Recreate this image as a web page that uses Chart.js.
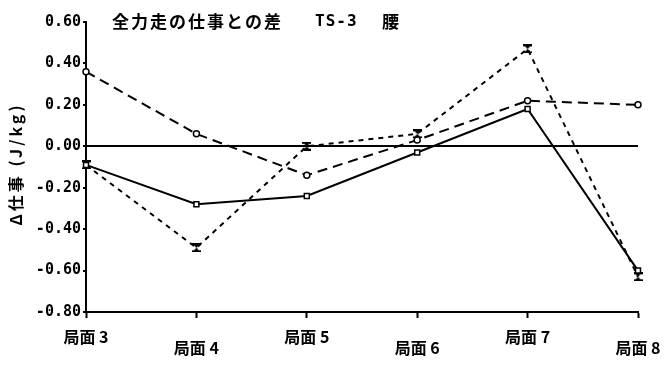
<!DOCTYPE html>
<html>
<head>
<meta charset="utf-8">
<script src="https://cdn.jsdelivr.net/npm/chart.js@4/dist/chart.umd.min.js"></script>
<style>
  body { margin: 0; background: #fff; }
  #wrap { width: 667px; height: 365px; }
</style>
</head>
<body>
<div id="wrap"><canvas id="myChart" width="667" height="365"></canvas></div>
<script>
'use strict';
let phases = ['局面 3', '局面 4', '局面 5', '局面 6', '局面 7', '局面 8'];
let solidSquare = [-0.09, -0.28, -0.24, -0.03, 0.18, -0.60];
let longDashCircle = [0.36, 0.06, -0.14, 0.03, 0.22, 0.20];
let shortDashHourglass = [-0.09, -0.49, 0.00, 0.06, 0.47, -0.63];
let yTicks = [0.60, 0.40, 0.20, 0.00, -0.20, -0.40, -0.60, -0.80];
let titleParts = ['全力走の仕事との差', 'TS-3', '腰'];
let yTitle = 'Δ仕事 (J/kg)';

let jpFont = '"Noto Sans CJK JP", sans-serif';
let numFont = '"DejaVu Sans Mono", "Noto Sans CJK JP", monospace';

// hourglass marker for the short dashed series
function makeHourglass() {
    let c = document.createElement('canvas');
    c.width = 9;
    c.height = 9;
    let g = c.getContext('2d');
    g.fillStyle = '#000';
    g.beginPath();
    g.moveTo(1, 1); g.lineTo(8, 1); g.lineTo(4.5, 4.5); g.lineTo(8, 8); g.lineTo(1, 8); g.lineTo(4.5, 4.5);
    g.closePath();
    g.fill();
    g.fillRect(0, 0, 9, 2);
    g.fillRect(0, 7, 9, 2);
    return c;
}

// stagger the category labels: 局面 4, 6, 8 on a second row
let xLabels = phases.map(function (p, i) { return i % 2 ? ['', p] : p; });

let textPlugin = {
    id: 'extraText',
    afterDraw(chart) {
        let c = chart.ctx;
        c.save();
        c.fillStyle = '#000';
        c.textBaseline = 'middle';
        c.letterSpacing = '2px';
        c.font = 'bold 17px ' + jpFont;
        c.fillText(titleParts[0], 112, 22);
        c.letterSpacing = '1px';
        c.font = 'bold 16px ' + numFont;
        c.fillText(titleParts[1], 315, 22);
        c.font = 'bold 17px ' + jpFont;
        c.fillText(titleParts[2], 382, 22);

        // rotated y axis title
        let mid = (chart.chartArea.top + chart.chartArea.bottom) / 2;
        c.translate(16, mid - 3);
        c.rotate(-Math.PI / 2);
        c.textAlign = 'center';
        c.letterSpacing = '3px';
        c.font = 'bold 16px ' + jpFont;
        c.fillText(yTitle, 0, 0);
        c.restore();
    }
};

let ctx = document.getElementById('myChart').getContext('2d');
ctx.letterSpacing = '2px';
let chart = new Chart(ctx, {
    type: 'line',
    data: {
        labels: xLabels,
        datasets: [
            {
                data: solidSquare,
                borderColor: '#000',
                borderWidth: 2,
                pointStyle: 'rect',
                pointRadius: 3.5,
                pointBackgroundColor: '#fff',
                pointBorderColor: '#000',
                pointBorderWidth: 1.5
            },
            {
                data: longDashCircle,
                borderColor: '#000',
                borderWidth: 2,
                borderDash: [10, 6],
                pointStyle: 'circle',
                pointRadius: 3,
                pointBackgroundColor: '#fff',
                pointBorderColor: '#000',
                pointBorderWidth: 1.5
            },
            {
                data: shortDashHourglass,
                borderColor: '#000',
                borderWidth: 2,
                borderDash: [5, 5],
                pointStyle: makeHourglass(),
                pointRadius: 4.5
            }
        ]
    },
    options: {
        responsive: false,
        animation: false,
        layout: { padding: { top: 22, right: 29, left: 0, bottom: 0 } },
        plugins: {
            legend: { display: false },
            tooltip: { enabled: false }
        },
        scales: {
            x: {
                offset: false,
                grid: { display: true, drawOnChartArea: false, tickLength: 6, tickColor: '#000', tickWidth: 2 },
                border: { color: '#000', width: 2 },
                ticks: {
                    color: '#000',
                    maxRotation: 0,
                    autoSkip: false,
                    padding: 13,
                    font: { family: jpFont, size: 16, weight: 'bold', lineHeight: 0.7 }
                },
                afterFit(scale) {
                    scale.height = 53;
                    scale.paddingLeft = 0;
                    scale.paddingRight = 0;
                }
            },
            y: {
                min: -0.8,
                max: 0.6,
                afterBuildTicks(scale) {
                    scale.ticks = yTicks.map(function (v) { return { value: v }; });
                },
                grid: {
                    drawOnChartArea: true,
                    tickLength: 3,
                    color: function (c) { return c.tick && Math.abs(c.tick.value) < 1e-9 ? '#000' : 'rgba(0,0,0,0)'; },
                    lineWidth: 2,
                    tickColor: '#000'
                },
                border: { color: '#000', width: 2 },
                ticks: {
                    color: '#000',
                    padding: 2,
                    font: { family: numFont, size: 15, weight: 'bold' },
                    callback: function (v) { return v.toFixed(2); }
                },
                afterFit(scale) { scale.width = 86; }
            }
        }
    },
    plugins: [textPlugin]
});
</script>
</body>
</html>
